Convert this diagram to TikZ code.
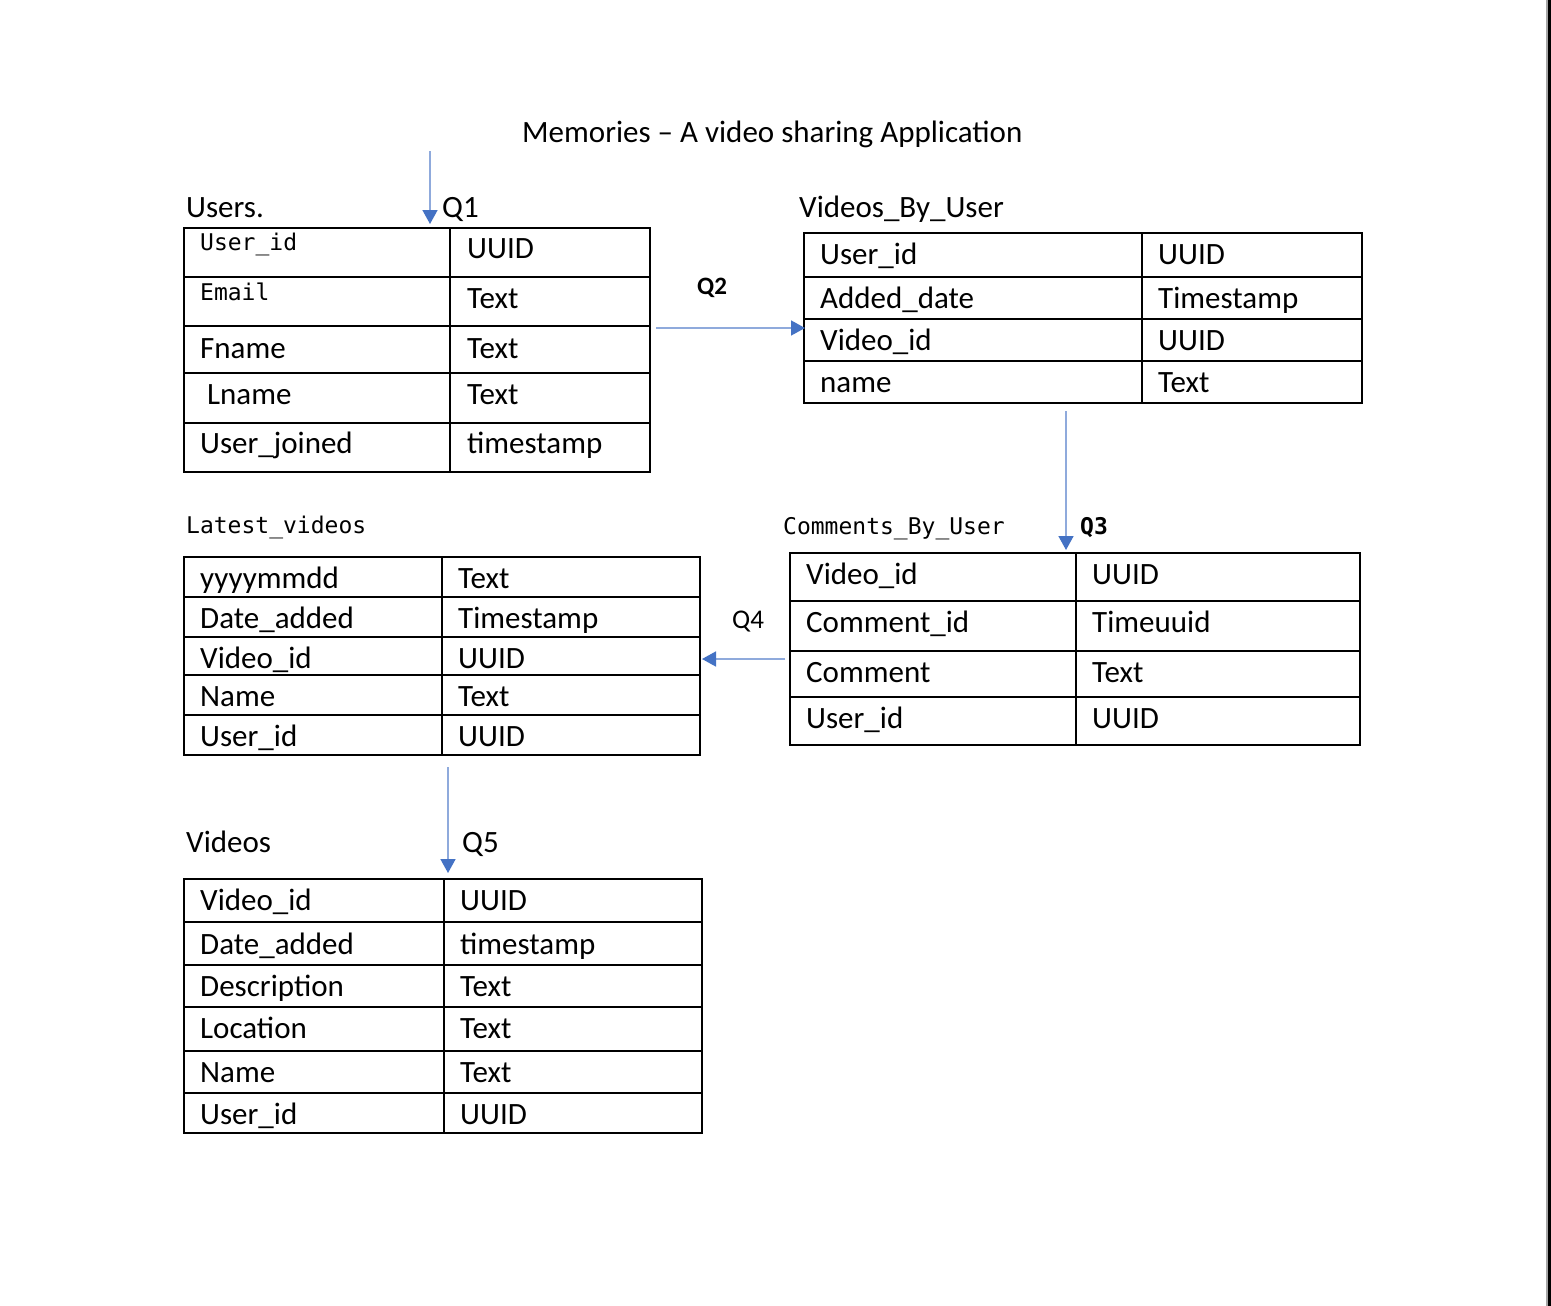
\documentclass[tikz,border=0pt]{standalone}
\usepackage{fontspec}
\setmainfont{Carlito}
\newfontfamily\monof{DejaVu Sans Mono}
\usetikzlibrary{arrows.meta}
\definecolor{linkblue}{RGB}{143,170,220}
\definecolor{headblue}{RGB}{68,114,196}
\tikzset{
  cell/.style={anchor=base west,inner sep=0pt,font=\fontsize{31}{31}\selectfont},
  mcell/.style={anchor=base west,inner sep=0pt,font=\monof\fontsize{23}{23}\selectfont},
  tbl/.style={draw=black,line width=2.4pt},
  link/.style={draw=linkblue,line width=1.6pt,-{Triangle[width=15pt,length=14pt,color=headblue]}},
}
\begin{document}
\begin{tikzpicture}[x=1pt,y=-1pt]
\useasboundingbox[fill=white] (0,0) rectangle (1551,1306);
\fill[gray!70] (1546,0) rectangle (1548.3,1306);
\fill[black] (1548.3,0) rectangle (1551,1306);

% title
\node[cell] (title) at (522,142) {Memories – A video sharing Application};

% ---------------- Users ----------------
\node[cell] (usersl) at (186,217) {Users.};
\node[cell] (q1) at (442,217) {Q1};
\draw[tbl] (184,228) rectangle (650,472);
\draw[tbl] (450,228) -- (450,472);
\foreach \yy in {277,326,373,423} \draw[tbl] (184,\yy) -- (650,\yy);
\node[mcell] (ua1) at (200,250) {User\_id};
\node[cell]  (ub1) at (467,258) {UUID};
\node[mcell] (ua2) at (200,300) {Email};
\node[cell]  (ub2) at (467,308) {Text};
\node[cell]  (ua3) at (200,358) {Fname};
\node[cell]  (ub3) at (467,358) {Text};
\node[cell]  (ua4) at (207,404) {Lname};
\node[cell]  (ub4) at (467,404) {Text};
\node[cell]  (ua5) at (200,453) {User\_joined};
\node[cell]  (ub5) at (467,453) {timestamp};

% ---------------- Videos_By_User ----------------
\node[cell] (vbul) at (799,217) {Videos\_By\_User};
\draw[tbl] (804,233) rectangle (1362,403);
\draw[tbl] (1142,233) -- (1142,403);
\foreach \yy in {277,319,361} \draw[tbl] (804,\yy) -- (1362,\yy);
\node[cell] (va1) at (820,264) {User\_id};
\node[cell] (vb1) at (1158,264) {UUID};
\node[cell] (va2) at (820,308) {Added\_date};
\node[cell] (vb2) at (1158,308) {Timestamp};
\node[cell] (va3) at (820,350) {Video\_id};
\node[cell] (vb3) at (1158,350) {UUID};
\node[cell] (va4) at (820,392) {name};
\node[cell] (vb4) at (1158,392) {Text};
\node[cell,font=\bfseries\fontsize{25}{25}\selectfont] (q2) at (697,294) {Q2};

% ---------------- Latest_videos ----------------
\node[mcell] (lvl) at (186,533) {Latest\_videos};
\draw[tbl] (184,557) rectangle (700,755);
\draw[tbl] (442,557) -- (442,755);
\foreach \yy in {597,637,675,715} \draw[tbl] (184,\yy) -- (700,\yy);
\node[cell] (la1) at (200,588) {yyyymmdd};
\node[cell] (lb1) at (458,588) {Text};
\node[cell] (la2) at (200,628) {Date\_added};
\node[cell] (lb2) at (458,628) {Timestamp};
\node[cell] (la3) at (200,668) {Video\_id};
\node[cell] (lb3) at (458,668) {UUID};
\node[cell] (la4) at (200,706) {Name};
\node[cell] (lb4) at (458,706) {Text};
\node[cell] (la5) at (200,746) {User\_id};
\node[cell] (lb5) at (458,746) {UUID};

% ---------------- Comments_By_User ----------------
\node[mcell] (cbul) at (783,534) {Comments\_By\_User};
\node[mcell,font=\monof\bfseries\fontsize{23}{23}\selectfont] (q3) at (1080,534) {Q3};
\draw[tbl] (790,553) rectangle (1360,745);
\draw[tbl] (1076,553) -- (1076,745);
\foreach \yy in {601,651,697} \draw[tbl] (790,\yy) -- (1360,\yy);
\node[cell] (ca1) at (806,584) {Video\_id};
\node[cell] (cb1) at (1092,584) {UUID};
\node[cell] (ca2) at (806,632) {Comment\_id};
\node[cell] (cb2) at (1092,632) {Timeuuid};
\node[cell] (ca3) at (806,682) {Comment};
\node[cell] (cb3) at (1092,682) {Text};
\node[cell] (ca4) at (806,728) {User\_id};
\node[cell] (cb4) at (1092,728) {UUID};
\node[cell,font=\fontsize{27}{27}\selectfont] (q4) at (732,628) {Q4};

% ---------------- Videos ----------------
\node[cell] (vidl) at (186,852) {Videos};
\node[cell] (q5) at (462,852) {Q5};
\draw[tbl] (184,879) rectangle (702,1133);
\draw[tbl] (444,879) -- (444,1133);
\foreach \yy in {922,965,1007,1051,1093} \draw[tbl] (184,\yy) -- (702,\yy);
\node[cell] (da1) at (200,910) {Video\_id};
\node[cell] (db1) at (460,910) {UUID};
\node[cell] (da2) at (200,954) {Date\_added};
\node[cell] (db2) at (460,954) {timestamp};
\node[cell] (da3) at (200,996) {Description};
\node[cell] (db3) at (460,996) {Text};
\node[cell] (da4) at (200,1038) {Location};
\node[cell] (db4) at (460,1038) {Text};
\node[cell] (da5) at (200,1082) {Name};
\node[cell] (db5) at (460,1082) {Text};
\node[cell] (da6) at (200,1124) {User\_id};
\node[cell] (db6) at (460,1124) {UUID};

% ---------------- arrows ----------------
\coordinate (a1s) at (430,151);  \coordinate (a1e) at (430,224);
\coordinate (a2s) at (656,328);  \coordinate (a2e) at (805,328);
\coordinate (a3s) at (1066,411); \coordinate (a3e) at (1066,550);
\coordinate (a4s) at (785,659);  \coordinate (a4e) at (702,659);
\coordinate (a5s) at (448,767);  \coordinate (a5e) at (448,873);
\draw[link] (a1s) -- (a1e);
\draw[link] (a2s) -- (a2e);
\draw[link] (a3s) -- (a3e);
\draw[link] (a4s) -- (a4e);
\draw[link] (a5s) -- (a5e);
\end{tikzpicture}
\end{document}
